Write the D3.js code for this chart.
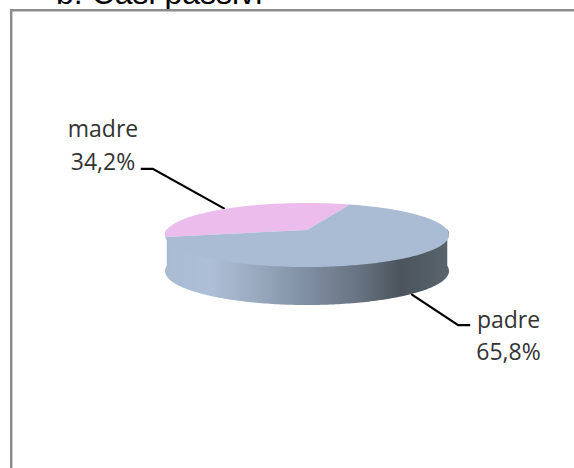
<!DOCTYPE html>
<meta charset="utf-8">
<script src="https://d3js.org/d3.v7.min.js"></script>
<style>
  body { margin: 0; background: #fff; }
  svg { display: block; }
  text { fill: #333; }
</style>
<div id="chart"></div>
<script>
const categories = ["madre", "padre"];
const values = [34.2, 65.8];
const valueLabels = ["34,2%", "65,8%"];
const sliceColors = ["#ecbcec", "#a9bcd3"];

const width = 574, height = 468;
const cx = 307, cy = 235, rx = 142, ry = 32, depth = 36;
// the centre of the disc sits a bit above the centre of its outline (perspective)
const k = 0.156;

const svg = d3.select("#chart").append("svg")
    .attr("width", width)
    .attr("height", height);

// title, cut off by the top of the picture like in the original
svg.append("text")
    .attr("x", 56)
    .attr("y", 4)
    .style("font", "32px 'Liberation Sans'")
    .style("fill", "#000")
    .text("b. Casi passivi");

// frame, runs off the picture at the bottom and right
svg.append("path")
    .attr("d", "M11.2,468V10.3H574")
    .attr("fill", "none")
    .attr("stroke", "#8c8c8c")
    .attr("stroke-width", 2.5);

// angle on the disc -> point on screen
function project(a) {
  const u = Math.sin(a), v = Math.cos(a), w = 1 + k * v;
  return [cx + rx * u * Math.sqrt(1 - k * k) / w, cy - ry * (v + k) / w];
}

const slices = d3.pie().sort(null)
    .startAngle(-102.5 * Math.PI / 180)
    .endAngle((360 - 102.5) * Math.PI / 180)(values);

const line = d3.line();

const grad = svg.append("defs").append("linearGradient")
    .attr("id", "side")
    .attr("gradientUnits", "userSpaceOnUse")
    .attr("x1", cx - rx).attr("x2", cx + rx).attr("y1", 0).attr("y2", 0);
[[0, "#a9bbd2"], [0.16, "#adbfd6"], [0.33, "#98a9be"], [0.51, "#7e8da0"], [0.69, "#667280"], [0.83, "#4b545c"], [1, "#59646d"]]
  .forEach(s => grad.append("stop").attr("offset", s[0]).attr("stop-color", s[1]));

// bottom rim is a bit deeper at the front than at the sides
function wallDrop(p) {
  return depth + 2 * (p[1] - cy) / ry;
}

// leader lines go under the pie: elbow dx, dy, then end dx
const leaderEnds = [[-72, -40, -84], [47, 31, 59]];
slices.forEach((s, i) => {
  const p = project((s.startAngle + s.endAngle) / 2);
  const yStart = i === 1 ? p[1] + wallDrop(p) : p[1];
  const [dx, dy, dx2] = leaderEnds[i];
  svg.append("path")
      .attr("d", line([[p[0], yStart], [p[0] + dx, yStart + dy], [p[0] + dx2, yStart + dy]]))
      .attr("fill", "none")
      .attr("stroke", "#000")
      .attr("stroke-width", 2.2);
});

// side wall, front half of the outline pushed down
const front = d3.range(90, 270.5, 1).map(d => d * Math.PI / 180).map(project);
const wall = front.map(p => [p[0], p[1] - 1])
    .concat(front.slice().reverse().map(p => [p[0], p[1] + wallDrop(p)]));
svg.append("path")
    .attr("d", line(wall) + "Z")
    .attr("fill", "url(#side)");

// top of the disc
const hub = [cx, cy - ry * k];
svg.selectAll(".slice")
  .data(slices)
  .join("path")
    .attr("class", "slice")
    .attr("fill", (d, i) => sliceColors[i])
    .attr("d", d => {
      const n = Math.ceil((d.endAngle - d.startAngle) * 60);
      const rim = d3.range(n + 1).map(j => project(d.startAngle + (d.endAngle - d.startAngle) * j / n));
      return line([hub].concat(rim)) + "Z";
    });

// labels
const labelPos = [[103, 137, 170], [508.5, 328, 360]];
categories.forEach((c, i) => {
  const [x, y1, y2] = labelPos[i];
  svg.append("text").attr("x", x).attr("y", y1).attr("text-anchor", "middle")
      .style("font", "23px 'Open Sans'").text(c);
  svg.append("text").attr("x", x).attr("y", y2).attr("text-anchor", "middle")
      .style("font", "23px 'Open Sans'").text(valueLabels[i]);
});
</script>
